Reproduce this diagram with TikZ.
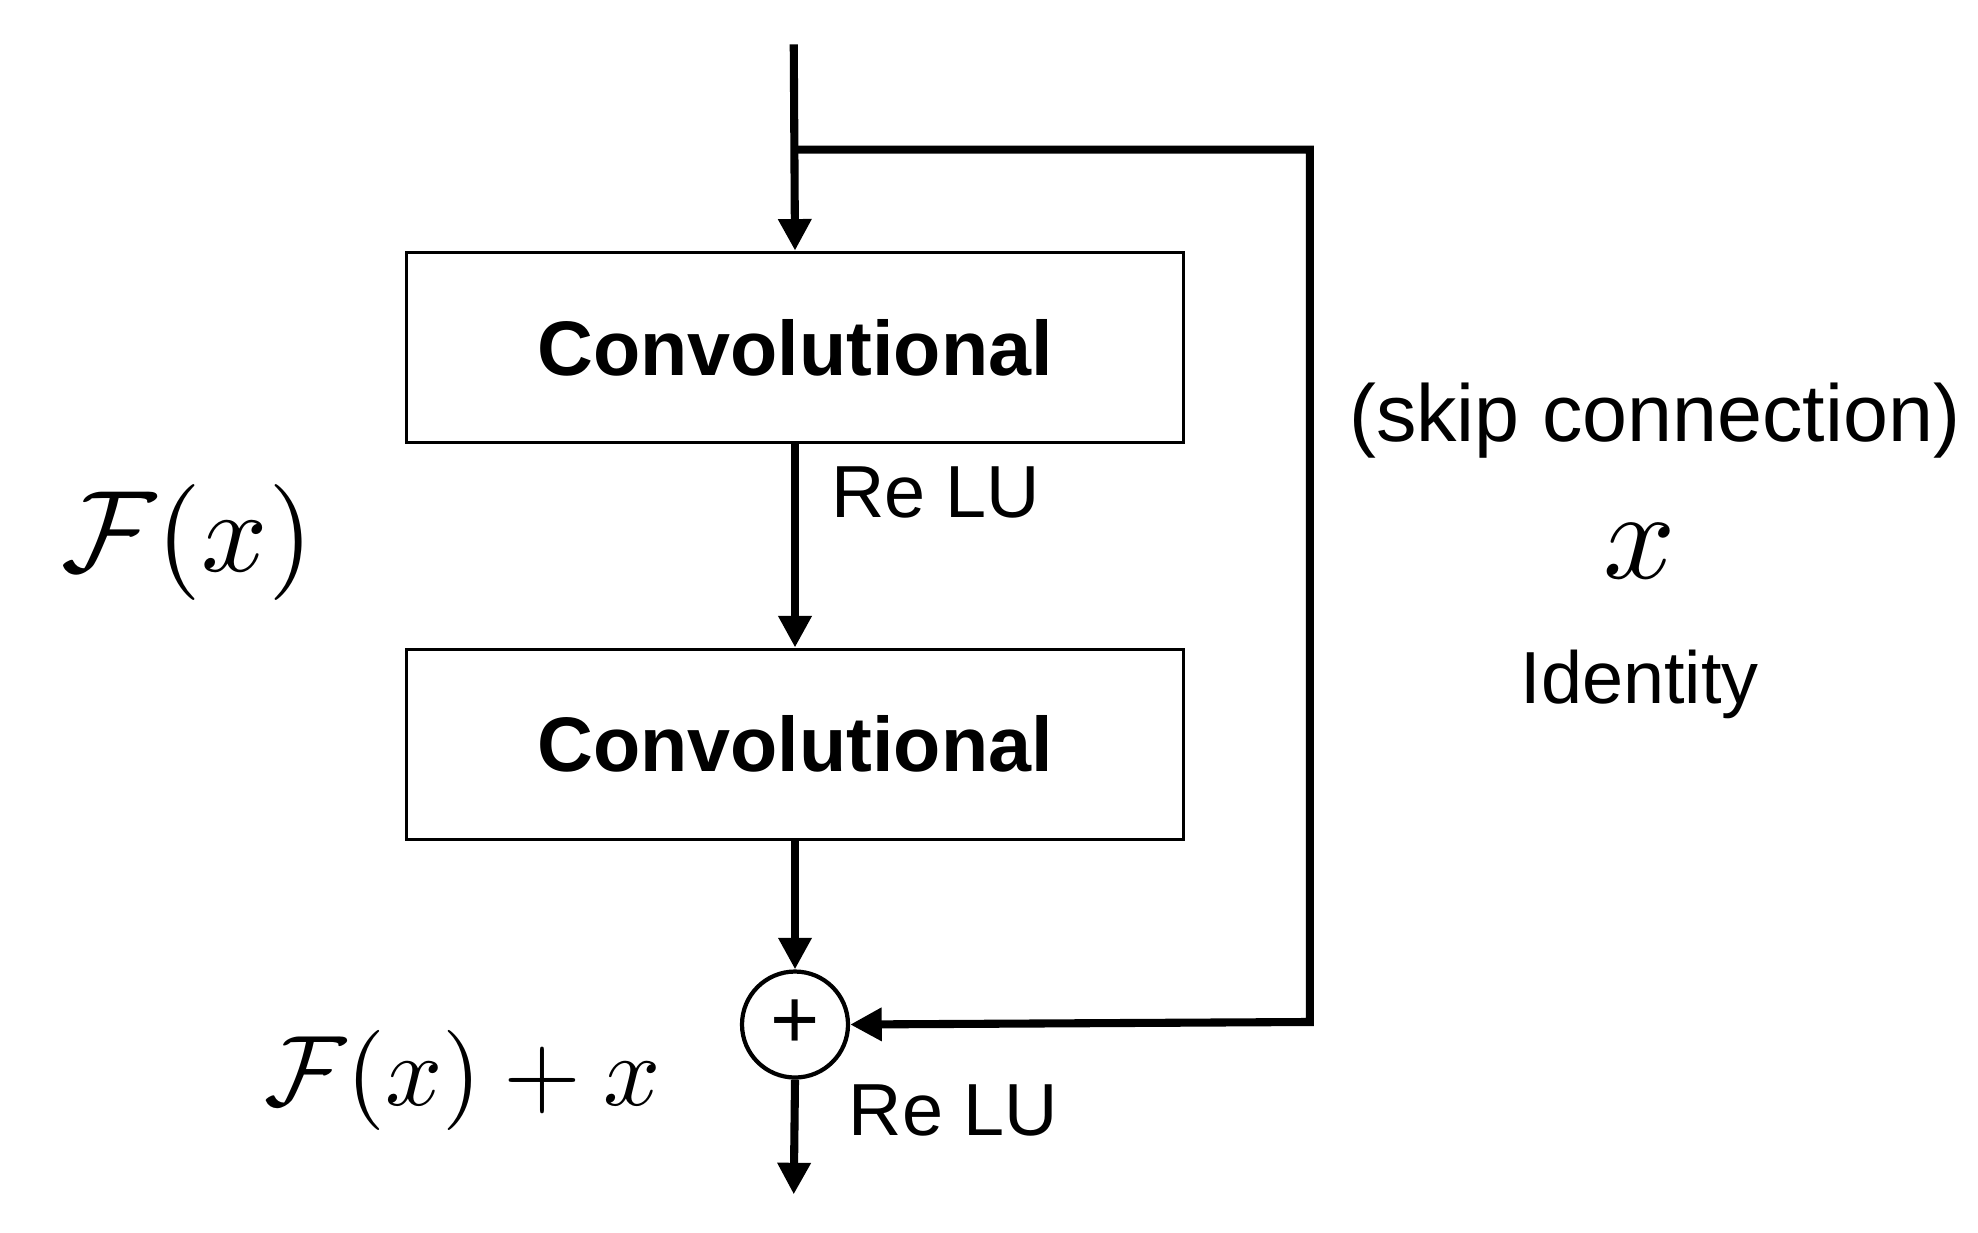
\documentclass[tikz,border=0pt]{standalone}
\usepackage{fontspec}
\setmainfont{Liberation Sans}
\usepackage{amsmath}
\usepackage{graphicx}
\usetikzlibrary{arrows.meta}

\tikzset{
  conv/.style={draw, line width=1pt, minimum width=7.77cm, minimum height=1.9cm,
    font=\fontsize{22}{26}\selectfont\bfseries},
  flow/.style={line width=2.3pt, -{Triangle[length=9pt,width=9pt]}},
  lbl/.style={font=\fontsize{21}{25}\selectfont}
}

\begin{document}
\begin{tikzpicture}[x=0.01268cm, y=-0.01268cm]
    \useasboundingbox (0,0) rectangle (1560,972);

    \coordinate (in) at (626,35);
    \coordinate (split) at (626,118);
    \coordinate (corner1) at (1033,118);
    \coordinate (corner2) at (1033,806);
    \coordinate (out) at (626,942);

    \node[conv] (conv1) at (627,274) {Convolutional};
    \node[conv] (conv2) at (627,587) {Convolutional};
    \node[draw, circle, line width=1.2pt, minimum size=1.06cm, inner sep=0pt,
      font=\fontsize{24}{28}\selectfont] (add) at (627,808) {+};

    \draw[flow] (in) -- (conv1.north);
    \draw[flow] (conv1.south) -- (conv2.north);
    \draw[flow] (conv2.south) -- (add.north);
    \draw[flow] (split) -- (corner1) -- (corner2) -- (add.east);
    \draw[flow] (add.south) -- (out);

    % labels
    \node[lbl] (relu1) at (738,388) {Re LU};
    \node[lbl] (relu2) at (752,876) {Re LU};
    \node[lbl, font=\fontsize{23}{28}\selectfont] (skip) at (1305,332) {(skip connection)};
    \node (xid) at (1293,435) {\scalebox{3.6}{$x$}};
    \node[lbl] (ident) at (1293,540) {Identity};
    \node (fx) at (148,428) {\scalebox{3.3}{$\mathcal{F}(x)$}};
    \node (fxx) at (365,852) {\scalebox{2.85}{$\mathcal{F}(x)+x$}};

  \end{tikzpicture}
\end{document}
